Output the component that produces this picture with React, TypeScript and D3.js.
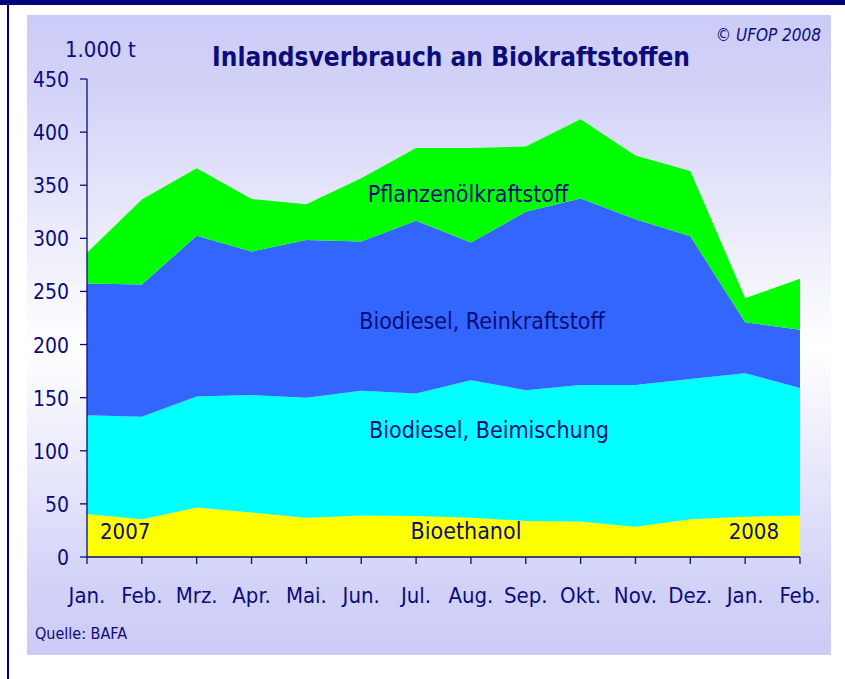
import { useEffect, useRef } from "react";
import * as d3 from "d3";

const months = ["Jan.", "Feb.", "Mrz.", "Apr.", "Mai.", "Jun.", "Jul.", "Aug.", "Sep.", "Okt.", "Nov.", "Dez.", "Jan.", "Feb."];
const bioethanol = [40.5, 35.5, 46.5, 42, 37, 39, 38.5, 37, 34, 33.5, 28.5, 35.5, 38, 39];
const beimischung = [93, 96.5, 104.5, 110.5, 113, 117.5, 115.5, 129.5, 123, 128.5, 133.5, 132, 135, 120];
const reinkraftstoff = [124, 124.5, 151.5, 135, 148.5, 140.5, 162.5, 129.5, 168, 175.5, 156, 134.5, 48, 55];
const pflanzenoel = [29, 80, 63.5, 49.5, 33.5, 59.5, 68.5, 89, 61.5, 74.5, 60, 61.5, 22.5, 48];
const seriesNames = ["Bioethanol", "Biodiesel, Beimischung", "Biodiesel, Reinkraftstoff", "Pflanzenölkraftstoff"];
const seriesColors = ["#ffff00", "#00ffff", "#3366ff", "#00ff00"];
const yTicks = [0, 50, 100, 150, 200, 250, 300, 350, 400, 450];

const W = 845;
const H = 679;
const navy = "#0c0c7a";
const font = "'DejaVu Sans Condensed', 'Liberation Sans Narrow', sans-serif";

const App = () => {
  const ref = useRef<SVGSVGElement>(null);

  useEffect(() => {
    const svg = d3.select(ref.current);
    svg.selectAll("*").remove();

    const x = d3.scaleLinear().domain([0, months.length - 1]).range([87, 800]);
    const y = d3.scaleLinear().domain([0, 450]).range([557, 79]);

    // background frame + gradient panel
    const defs = svg.append("defs");
    const grad = defs.append("linearGradient").attr("id", "bg").attr("x1", 0).attr("y1", 0).attr("x2", 0).attr("y2", 1);
    grad.append("stop").attr("offset", "0%").attr("stop-color", "#cbcbf7");
    grad.append("stop").attr("offset", "12%").attr("stop-color", "#d3d3f8");
    grad.append("stop").attr("offset", "52%").attr("stop-color", "#ffffff");
    grad.append("stop").attr("offset", "88%").attr("stop-color", "#d3d3f8");
    grad.append("stop").attr("offset", "100%").attr("stop-color", "#cbcbf7");

    svg.append("rect").attr("width", W).attr("height", H).attr("fill", "#ffffff");
    svg.append("rect").attr("x", 0).attr("y", 0).attr("width", W).attr("height", 5).attr("fill", "#00007a");
    svg.append("rect").attr("x", 7).attr("y", 0).attr("width", 2).attr("height", H).attr("fill", "#00007a");
    svg.append("rect").attr("x", 27).attr("y", 15).attr("width", 804).attr("height", 640).attr("fill", "url(#bg)");

    // stacked areas
    const rows = months.map((m, i) => ({
      i,
      s0: bioethanol[i],
      s1: beimischung[i],
      s2: reinkraftstoff[i],
      s3: pflanzenoel[i],
    }));
    const stack = d3.stack<any>().keys(["s0", "s1", "s2", "s3"]);
    const layers = stack(rows);
    const area = d3
      .area<any>()
      .x((d) => x(d.data.i))
      .y0((d) => y(d[0]))
      .y1((d) => y(d[1]));

    svg
      .append("g")
      .selectAll("path")
      .data(layers)
      .enter()
      .append("path")
      .attr("d", (d) => area(d))
      .attr("fill", (d, i) => seriesColors[i]);

    // axes
    const ax = svg.append("g").attr("stroke", navy).attr("stroke-width", 1.3);
    ax.append("line").attr("x1", x(0)).attr("x2", x(0)).attr("y1", y(450)).attr("y2", y(0));
    ax.append("line").attr("x1", x(0)).attr("x2", x(months.length - 1)).attr("y1", y(0)).attr("y2", y(0));
    ax.selectAll(".yt")
      .data(yTicks)
      .enter()
      .append("line")
      .attr("x1", x(0) - 7)
      .attr("x2", x(0))
      .attr("y1", (d) => y(d))
      .attr("y2", (d) => y(d));
    ax.selectAll(".xt")
      .data(months)
      .enter()
      .append("line")
      .attr("x1", (d, i) => x(i))
      .attr("x2", (d, i) => x(i))
      .attr("y1", y(0))
      .attr("y2", y(0) + 7);

    const txt = svg.append("g").attr("fill", navy).style("font-family", font);

    txt.selectAll(".yl")
      .data(yTicks)
      .enter()
      .append("text")
      .attr("x", 69)
      .attr("y", (d) => y(d) + 8)
      .attr("text-anchor", "end")
      .style("font-size", "21px")
      .text((d) => d);

    txt.selectAll(".xl")
      .data(months)
      .enter()
      .append("text")
      .attr("x", (d, i) => x(i))
      .attr("y", 603)
      .attr("text-anchor", "middle")
      .style("font-size", "22px")
      .text((d) => d);

    // series labels
    const labels = [
      { t: seriesNames[3], x: 468, y: 202 },
      { t: seriesNames[2], x: 482, y: 329 },
      { t: seriesNames[1], x: 489, y: 438 },
      { t: seriesNames[0], x: 466, y: 539 },
    ];
    txt.selectAll(".sl")
      .data(labels)
      .enter()
      .append("text")
      .attr("x", (d) => d.x)
      .attr("y", (d) => d.y)
      .attr("text-anchor", "middle")
      .style("font-size", "23px")
      .text((d) => d.t);

    txt.append("text").attr("x", 100).attr("y", 539).style("font-size", "22px").text("2007");
    txt.append("text").attr("x", 779).attr("y", 539).attr("text-anchor", "end").style("font-size", "22px").text("2008");

    txt.append("text").attr("x", 451).attr("y", 66).attr("text-anchor", "middle")
      .style("font-size", "26px").style("font-weight", "bold").text("Inlandsverbrauch an Biokraftstoffen");
    txt.append("text").attr("x", 65).attr("y", 57).style("font-size", "22px").text("1.000 t");
    txt.append("text").attr("x", 821).attr("y", 41).attr("text-anchor", "end")
      .style("font-size", "17px").style("font-style", "italic").text("© UFOP 2008");
    txt.append("text").attr("x", 35).attr("y", 639).style("font-size", "16px").text("Quelle: BAFA");
  }, []);

  return (
    <svg
      ref={ref}
      width={W}
      height={H}
      style={{ position: "absolute", left: 0, top: 0, display: "block" }}
    />
  );
};

export default App;
